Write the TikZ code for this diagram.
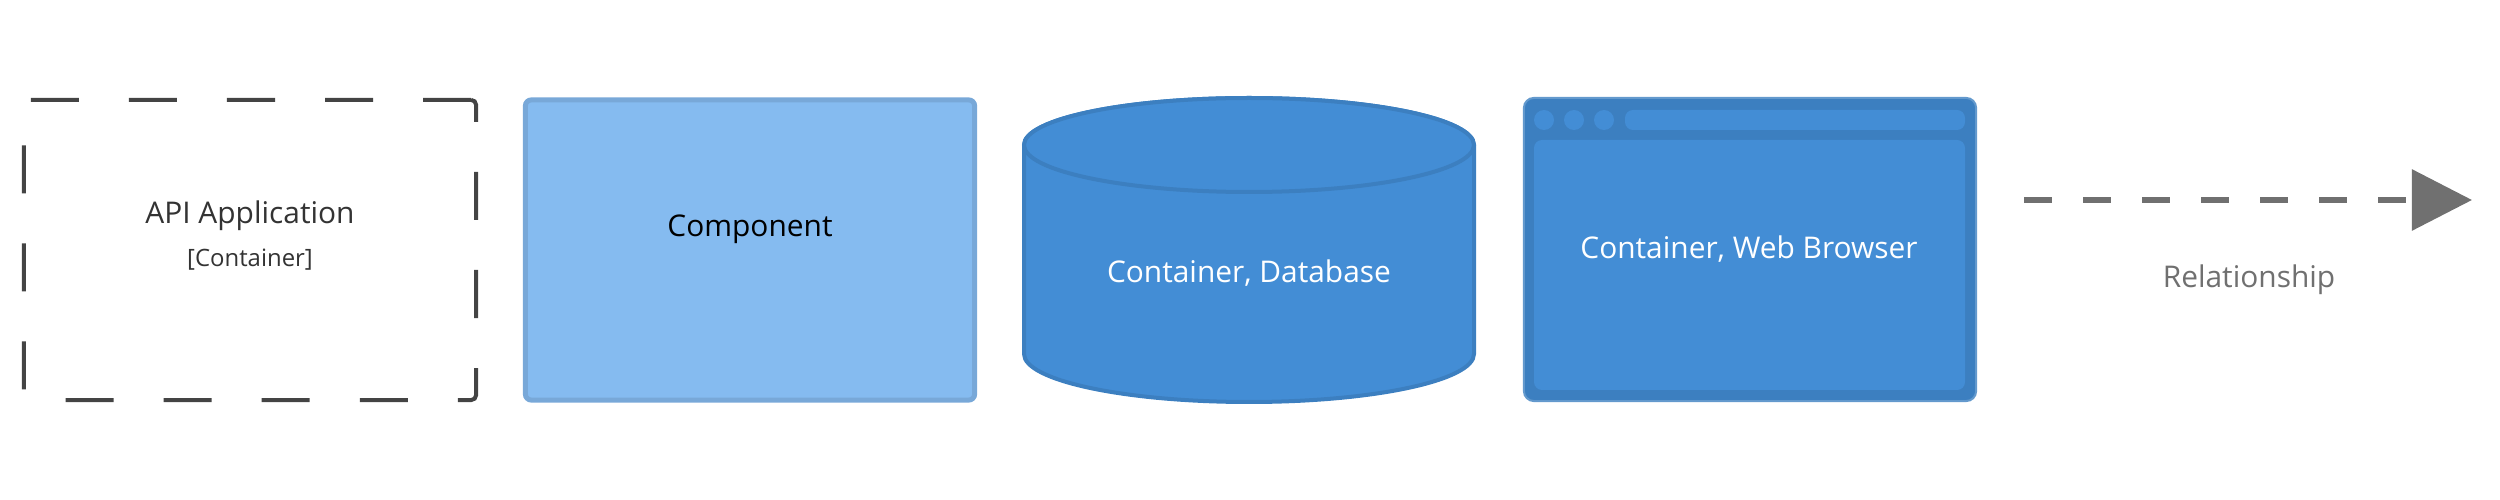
\documentclass[tikz,border=0pt]{standalone}
\usepackage{fontspec}
\setmainfont{Open Sans}
\usetikzlibrary{arrows.meta}

\definecolor{apigray}{HTML}{444444}
\definecolor{apitext}{HTML}{333333}
\definecolor{compfill}{HTML}{85BBF0}
\definecolor{compline}{HTML}{78A8D8}
\definecolor{contfill}{HTML}{438DD5}
\definecolor{contline}{HTML}{3C7FC0}
\definecolor{relgray}{HTML}{707070}

\begin{document}
\begin{tikzpicture}[x=0.01cm,y=0.01cm,
  every node/.style={font=\fontsize{8.5}{10}\selectfont},
  apibox/.style={draw=apigray,line width=0.04cm,dash pattern=on 0.48cm off 0.5cm,rounded corners=0.05cm,minimum width=4.52cm,minimum height=3cm},
  compbox/.style={draw=compline,fill=compfill,line width=0.05cm,rounded corners=0.06cm,minimum width=4.49cm,minimum height=3cm},
  dbbody/.style={fill=contfill,draw=contline,line width=0.04cm},
  webbox/.style={fill=contline,draw=contline!80!white,line width=0.02cm,rounded corners=0.1cm,minimum width=4.52cm,minimum height=3.03cm},
  webpanel/.style={fill=contfill,rounded corners=0.08cm},
  relline/.style={draw=relgray,line width=0.06cm,dash pattern=on 0.28cm off 0.31cm,-{Triangle[length=0.6cm,width=0.6cm]}}]
\useasboundingbox (0,0) rectangle (2500,500);

\node[apibox] (api) at (250,250) {};
\node[text=apitext] (apiname) at (250,284) {API Application};
\node[text=apitext,font=\fontsize{6.8}{8}\selectfont] (apitype) at (250,240) {[Container]};

\node[compbox] (comp) at (750,250) {};
\node[text=black] (compname) at (750,271) {Component};

\path[dbbody] (1024,355) -- (1024,146) arc[start angle=180,end angle=360,x radius=225,y radius=48] -- (1474,355) arc[start angle=0,end angle=180,x radius=225,y radius=47] -- cycle;
\draw[dbbody] (1249,355) ellipse[x radius=225,y radius=47];
\node[text=white] (dbname) at (1249,227) {Container, Database};

\node[webbox] (web) at (1750,250.5) {};
\fill[webpanel] (1625,370) rectangle (1965,390);
\fill[webpanel] (1534,110) rectangle (1965,360);
\foreach \x in {1544,1574,1604}
  \fill[contfill] (\x,380) circle[radius=10];
\node[text=white] (webname) at (1749,251) {Container, Web Browser};

\coordinate (relfrom) at (2024,300);
\coordinate (relto) at (2472,300);
\draw[relline] (relfrom) -- (relto);
\node[text=relgray] (relname) at (2249,220) {Relationship};

\end{tikzpicture}
\end{document}
